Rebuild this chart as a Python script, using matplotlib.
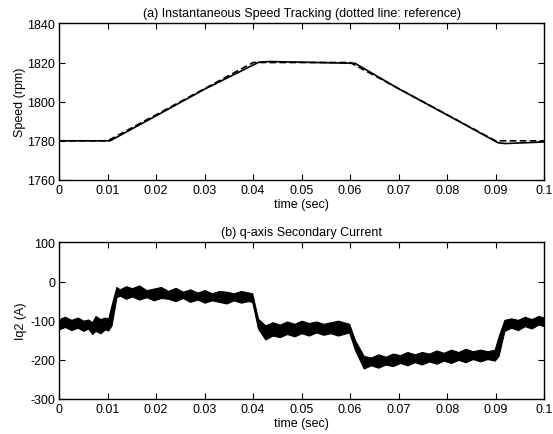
import numpy as np
import matplotlib.pyplot as plt

plt.rcParams['font.family'] = ['Liberation Sans', 'DejaVu Sans']
plt.rcParams['font.size'] = 9
plt.rcParams['axes.unicode_minus'] = False

# (a) speed, actual and reference
t_speed = [0, 0.0105, 0.02, 0.03, 0.0412, 0.0435, 0.061, 0.07, 0.08, 0.0905, 0.092, 0.1]
speed = [1780, 1780, 1792.8, 1806.4, 1820.2, 1820.5, 1819.6, 1806.6, 1793.2, 1779, 1778.6, 1779.4]
t_ref = [0, 0.01, 0.04, 0.06, 0.09, 0.1]
speed_ref = [1780, 1780, 1820, 1820, 1780, 1780]

# (b) q-axis current, band envelopes
t_cur = [0, 0.0012, 0.0025, 0.0038, 0.005, 0.006, 0.0068, 0.0075, 0.0085, 0.0095, 0.0101,
         0.0108, 0.0118, 0.0125, 0.0138, 0.015, 0.0165, 0.018, 0.0195, 0.021, 0.0225, 0.024,
         0.0255, 0.027, 0.0285, 0.03, 0.0315, 0.033, 0.0345, 0.036, 0.0375, 0.039, 0.0398,
         0.041, 0.0425, 0.044, 0.0455, 0.047, 0.0485, 0.05, 0.0515, 0.053, 0.0545, 0.056,
         0.0575, 0.0598, 0.061, 0.0628, 0.0643, 0.0658, 0.0673, 0.0688, 0.0703, 0.0718,
         0.0733, 0.0748, 0.0763, 0.0778, 0.0793, 0.0808, 0.0823, 0.0838, 0.0853, 0.0868,
         0.0883, 0.0898, 0.0906, 0.0918, 0.0932, 0.0946, 0.096, 0.0974, 0.0988, 0.1]
cur_hi = [-96, -90, -98, -92, -100, -97, -104, -88, -96, -92, -95,
          -60, -14, -20, -12, -17, -10, -22, -18, -14, -24, -16,
          -26, -20, -28, -22, -30, -24, -26, -30, -24, -28, -30,
          -95, -112, -104, -110, -102, -108, -100, -106, -102, -108, -104,
          -100, -108, -150, -190, -194, -186, -192, -184, -188, -180,
          -186, -180, -184, -176, -182, -174, -180, -172, -178, -174,
          -178, -174, -140, -98, -94, -98, -90, -96, -88, -92]
cur_lo = [-122, -116, -124, -118, -126, -120, -134, -126, -132, -122, -125,
          -112, -40, -36, -44, -38, -46, -40, -48, -42, -44, -50,
          -42, -52, -46, -54, -48, -52, -56, -48, -54, -50, -52,
          -120, -148, -138, -142, -134, -140, -132, -138, -130, -136, -132,
          -138, -130, -175, -222, -214, -220, -212, -216, -208, -214,
          -206, -212, -204, -210, -202, -208, -200, -206, -198, -204,
          -198, -202, -190, -126, -118, -124, -114, -120, -110, -114]

fig = plt.figure(figsize=(5.53, 4.35), dpi=100)
ax1 = fig.add_axes([0.107, 0.584, 0.877, 0.36])
ax2 = fig.add_axes([0.107, 0.0805, 0.877, 0.36])

ax1.plot(t_speed, speed, color='black', lw=1.2)
ax1.plot(t_ref, speed_ref, color='black', lw=1.2, ls=(0, (4, 2)))
ax1.set_xlim(0, 0.1)
ax1.set_ylim(1760, 1840)
ax1.set_yticks([1760, 1780, 1800, 1820, 1840])
ax1.set_xticks(np.arange(0, 0.101, 0.01))
ax1.set_xticklabels(['0', '0.01', '0.02', '0.03', '0.04', '0.05', '0.06', '0.07', '0.08', '0.09', '0.1'])
ax1.set_ylabel('Speed (rpm)', labelpad=1)
ax1.set_xlabel('time (sec)', labelpad=1)
ax1.set_title('(a) Instantaneous Speed Tracking (dotted line: reference)', fontsize=9, pad=5)

ax2.fill_between(t_cur, cur_lo, cur_hi, color='black', lw=0.8, edgecolor='black')
ax2.set_xlim(0, 0.1)
ax2.set_ylim(-300, 100)
ax2.set_yticks([-300, -200, -100, 0, 100])
ax2.set_xticks(np.arange(0, 0.101, 0.01))
ax2.set_xticklabels(['0', '0.01', '0.02', '0.03', '0.04', '0.05', '0.06', '0.07', '0.08', '0.09', '0.1'])
ax2.set_ylabel('Iq2 (A)', labelpad=2)
ax2.set_xlabel('time (sec)', labelpad=1)
ax2.set_title('(b) q-axis Secondary Current', fontsize=9, pad=5)

for ax in (ax1, ax2):
    ax.tick_params(direction='in', top=True, right=True, length=4, pad=3)
    for s in ax.spines.values():
        s.set_linewidth(1.0)

fig.savefig('out.png', dpi=100)
